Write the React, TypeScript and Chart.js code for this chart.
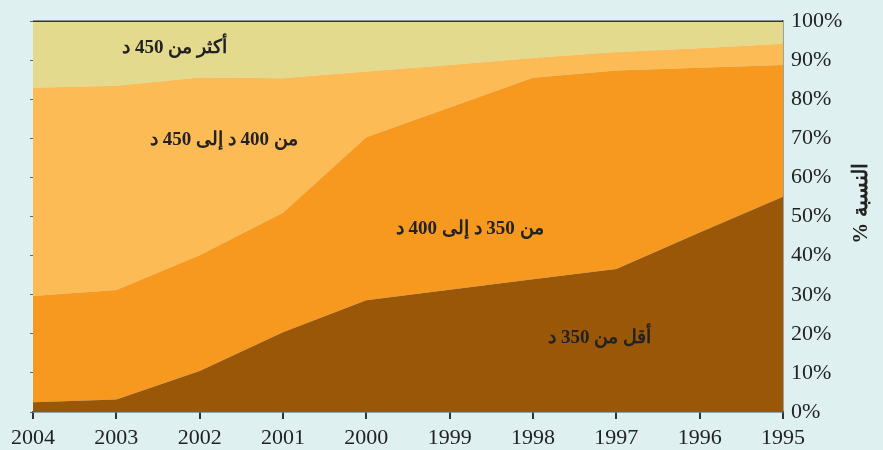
import React, { useEffect, useRef } from 'react';
import { Chart, registerables } from 'chart.js';

Chart.register(...registerables);

// ---- data ----
const years = ['2004', '2003', '2002', '2001', '2000', '1999', '1998', '1997', '1996', '1995'];
const below350 = [2.5, 3.2, 10.5, 20.4, 28.6, 31.3, 34.0, 36.6, 45.9, 55.1];
const from350to400 = [27.2, 28.0, 29.6, 30.6, 41.7, 46.6, 51.5, 50.8, 42.2, 33.7];
const from400to450 = [53.3, 52.3, 45.5, 34.4, 16.8, 10.9, 5.1, 4.7, 5.0, 5.4];
const above450 = [17.0, 16.5, 14.4, 14.6, 12.9, 11.2, 9.4, 7.9, 6.9, 5.8];
const seriesNames = ['أقل من 350 د', 'من 350 د إلى 400 د', 'من 400 د إلى 450 د', 'أكثر من 450 د'];
const axisTitle = '% النسبة';

// ---- styling / label placement (in data units) ----
const seriesColors = ['#9a5707', '#f7981f', '#fdbb55', '#e4da8e'];
const labelXIndex = [6.8, 5.24, 2.29, 1.7];
const labelYValue = [19, 46.7, 69.5, 93.1];

const FONT = "'Liberation Serif', 'Times New Roman', serif";

const decorPlugin = {
  id: 'decor',
  afterDatasetsDraw(chart: any) {
    const { ctx, chartArea, scales } = chart;
    const x = scales.x;
    const y = scales.y;
    ctx.save();
    // area labels
    ctx.fillStyle = '#222';
    ctx.font = `bold 19px ${FONT}`;
    ctx.textAlign = 'center';
    ctx.textBaseline = 'middle';
    (ctx as any).direction = 'rtl';
    seriesNames.forEach((name, i) => {
      const px = x.left + (x.right - x.left) * (labelXIndex[i] / (years.length - 1));
      const py = y.getPixelForValue(labelYValue[i]);
      ctx.fillText(name, px, py);
    });
    // top border
    (ctx as any).direction = 'ltr';
    ctx.strokeStyle = '#333';
    ctx.lineWidth = 1.5;
    ctx.beginPath();
    ctx.moveTo(chartArea.left, chartArea.top);
    ctx.lineTo(chartArea.right, chartArea.top);
    ctx.stroke();
    // axis title
    ctx.translate(862, (chartArea.top + chartArea.bottom) / 2 - 13);
    ctx.rotate(-Math.PI / 2);
    ctx.font = `bold 21px ${FONT}`;
    ctx.fillStyle = '#222';
    ctx.textAlign = 'center';
    ctx.textBaseline = 'middle';
    ctx.fillText(axisTitle, 0, 0);
    ctx.restore();
  },
};

export default function App() {
  const ref = useRef<HTMLCanvasElement | null>(null);

  useEffect(() => {
    if (!ref.current) return;
    const seriesValues = [below350, from350to400, from400to450, above450];
    const chart = new Chart(ref.current, {
      type: 'line',
      data: {
        labels: years,
        datasets: seriesValues.map((vals, i) => ({
          label: seriesNames[i],
          data: vals,
          backgroundColor: seriesColors[i],
          borderColor: seriesColors[i],
          borderWidth: 0,
          pointRadius: 0,
          tension: 0,
          fill: i === 0 ? 'origin' : '-1',
          yAxisID: 'y',
        })),
      },
      options: {
        responsive: false,
        animation: false,
        layout: { padding: { top: 18, left: 0, right: 0, bottom: 0 } },
        plugins: {
          legend: { display: false },
          tooltip: { enabled: false },
        },
        scales: {
          x: {
            type: 'category',
            offset: false,
            grid: { drawOnChartArea: false, drawTicks: true, tickLength: 7, color: '#333', lineWidth: 2 },
            border: { display: true, color: '#555', width: 1.5 },
            ticks: {
              autoSkip: false,
              maxRotation: 0,
              color: '#222',
              padding: 6,
              font: { family: FONT, size: 22 },
            },
            afterFit: (s: any) => { s.height = 38; },
          },
          y: {
            position: 'right',
            stacked: true,
            min: 0,
            max: 100,
            ticks: {
              stepSize: 10,
              color: '#222',
              padding: 8,
              font: { family: FONT, size: 22 },
              callback: (v: any) => `${v}%`,
            },
            grid: { drawOnChartArea: false, drawTicks: false },
            border: { display: true, color: '#555', width: 1.5 },
            afterFit: (s: any) => { s.width = 100; },
          },
          y2: {
            position: 'left',
            min: 0,
            max: 100,
            ticks: { display: false, stepSize: 10 },
            grid: { drawOnChartArea: false, drawTicks: true, tickLength: 3, color: '#666' },
            border: { display: false },
            afterFit: (s: any) => { s.width = 33; },
          },
        },
      },
      plugins: [decorPlugin],
    } as any);
    return () => chart.destroy();
  }, []);

  return (
    <div style={{ position: 'absolute', left: 0, top: 0, width: 883, height: 450, background: '#dff0f0' }}>
      <canvas ref={ref} width={883} height={450} style={{ display: 'block' }} />
    </div>
  );
}
